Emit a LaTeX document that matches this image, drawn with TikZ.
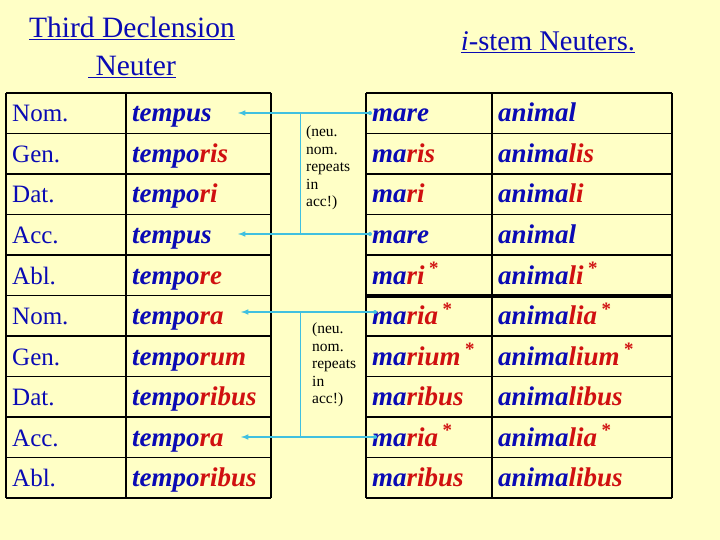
\documentclass[tikz,border=0pt]{standalone}
\usepackage{fontspec}
\setmainfont{Liberation Serif}
\definecolor{bg}{HTML}{FFFFC6}
\definecolor{tb}{HTML}{0A0AB4}
\definecolor{tr}{HTML}{D01010}
\definecolor{cy}{HTML}{40C0E0}
\newcommand{\R}[1]{\textcolor{tr}{#1}}
\newcommand{\st}{\,\textsuperscript{\normalfont\bfseries *}}
\begin{document}
\begin{tikzpicture}[x=1pt,y=-1pt,
  lab/.style={anchor=base west,text=tb,font=\fontsize{25}{25}\selectfont,inner sep=0},
  wd/.style={anchor=base west,text=tb,font=\fontsize{27}{27}\selectfont\bfseries\itshape,inner sep=0},
  note/.style={anchor=north west,align=left,font=\fontsize{15.5}{17.5}\selectfont,inner sep=0},
  arr/.style={cy,line width=1.5pt,-latex},
  grid/.style={line width=1.6pt}]
\fill[bg] (0,0) rectangle (720,540);
\useasboundingbox (0,0) rectangle (720,540);
\node[text=tb,align=center,font=\fontsize{29.5}{38}\selectfont] (t1) at (132,47) {\underline{Third Declension}\\\underline{ Neuter}};
\node[text=tb,font=\fontsize{28.5}{28}\selectfont] (t2) at (548,42) {\underline{\textit{i}-stem Neuters.}};
% grids
\foreach \i in {0,...,10} \draw[grid] (6,{93+40.5*\i}) -- (271,{93+40.5*\i});
\draw[grid] (6,93) -- (6,498) (126,93)--(126,498) (271,93)--(271,498);
\foreach \i in {0,...,10} \draw[grid] (366,{93+40.5*\i}) -- (672,{93+40.5*\i});
\draw[line width=4pt] (366,295.5) -- (672,295.5);
\draw[grid] (366,93) -- (366,498) (492,93)--(492,498) (672,93)--(672,498);
% labels
\foreach \t [count=\i from 0] in {Nom.,Gen.,Dat.,Acc.,Abl.,Nom.,Gen.,Dat.,Acc.,Abl.}
  \node[lab] (l\i) at (12,{122+40.5*\i}) {\t};
\foreach \t [count=\i from 0] in {tempus,tempo\R{ris},tempo\R{ri},tempus,tempo\R{re},tempo\R{ra},tempo\R{rum},tempo\R{ribus},tempo\R{ra},tempo\R{ribus}}
  \node[wd] (a\i) at (132,{122+40.5*\i}) {\t};
\foreach \t [count=\i from 0] in {mare,ma\R{ris},ma\R{ri},mare,ma\R{ri\st},ma\R{ria\st},ma\R{rium\st},ma\R{ribus},ma\R{ria\st},ma\R{ribus}}
  \node[wd] (b\i) at (372,{122+40.5*\i}) {\t};
\foreach \t [count=\i from 0] in {animal,anima\R{lis},anima\R{li},animal,anima\R{li\st},anima\R{lia\st},anima\R{lium\st},anima\R{libus},anima\R{lia\st},anima\R{libus}}
  \node[wd] (c\i) at (498,{122+40.5*\i}) {\t};
% arrows
\coordinate (p0) at (238,113); \coordinate (p3) at (238,234);
\coordinate (p5) at (241,312); \coordinate (p8) at (241,437);
\coordinate (q0) at (370,113); \coordinate (q3) at (370,234);
\coordinate (q5) at (375,312); \coordinate (q8) at (375,437);
\foreach \k in {0,3,5,8} {\draw[arr] (q\k) -- (p\k); \fill[cy] (q\k) circle (2);}
\draw[cy,line width=1pt] (300,113) -- (300,234) (300,312) -- (300,437);
\node[note] (n1) at (306,126) {(neu.\\nom.\\repeats\\in\\acc!)};
\node[note] (n2) at (312,323) {(neu.\\nom.\\repeats\\in\\acc!)};
\end{tikzpicture}
\end{document}
